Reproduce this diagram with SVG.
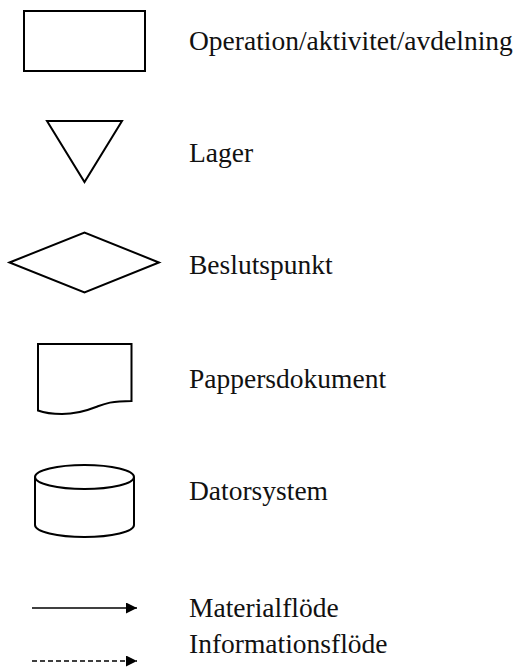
<svg xmlns="http://www.w3.org/2000/svg" width="516" height="668" viewBox="0 0 516 668">
  <style>
    .shape { fill: none; stroke: #000; stroke-width: 2; stroke-linejoin: miter; }
    .label { font-size: 27.5px; fill: #111; }
    .flow { stroke: #000; stroke-width: 1.3; fill: none; }
    .dash { stroke-dasharray: 5 3; }
  </style>
  <defs>
    <marker id="head" viewBox="0 0 10 10" refX="10" refY="5" markerWidth="11" markerHeight="11" markerUnits="userSpaceOnUse" orient="auto">
      <path d="M0,0 L10,5 L0,10 Z" fill="#000"/>
    </marker>
  </defs>
  <rect width="516" height="668" fill="#fff"/>

  <g id="operation">
    <rect class="shape" x="24" y="11" width="121" height="60"/>
    <text class="label" font-family="'Liberation Serif', 'DejaVu Serif', serif" x="189" y="50">Operation/aktivitet/avdelning</text>
  </g>

  <g id="lager">
    <polygon class="shape" points="47,121 122,121 84.5,182"/>
    <text class="label" font-family="'Liberation Serif', 'DejaVu Serif', serif" x="189" y="162">Lager</text>
  </g>

  <g id="beslutspunkt">
    <polygon class="shape" points="9.5,262.5 84.5,232.5 159,262.5 84.5,292.5"/>
    <text class="label" font-family="'Liberation Serif', 'DejaVu Serif', serif" x="189" y="274">Beslutspunkt</text>
  </g>

  <g id="pappersdokument">
    <path class="shape" d="M38,344 H131.5 V401 C110,401 104,404 96,407 C86,411 76,414 62,414 C50,414 42,412 38,410.5 Z"/>
    <text class="label" font-family="'Liberation Serif', 'DejaVu Serif', serif" x="189" y="388">Pappersdokument</text>
  </g>

  <g id="datorsystem">
    <path class="shape" d="M35,477 V525 A49.5,12 0 0 0 134,525 V477"/>
    <ellipse class="shape" cx="84.5" cy="477" rx="49.5" ry="12"/>
    <text class="label" font-family="'Liberation Serif', 'DejaVu Serif', serif" x="189" y="500">Datorsystem</text>
  </g>

  <g id="legend-flows">
    <line class="flow" x1="32" y1="608" x2="137" y2="608" marker-end="url(#head)"/>
    <line class="flow dash" x1="32" y1="661" x2="137" y2="661" marker-end="url(#head)"/>
  </g>

  <g id="flow-labels">
    <text class="label" font-family="'Liberation Serif', 'DejaVu Serif', serif" x="189" y="617">Materialflöde</text>
    <text class="label" font-family="'Liberation Serif', 'DejaVu Serif', serif" x="189" y="653">Informationsflöde</text>
  </g>
</svg>
